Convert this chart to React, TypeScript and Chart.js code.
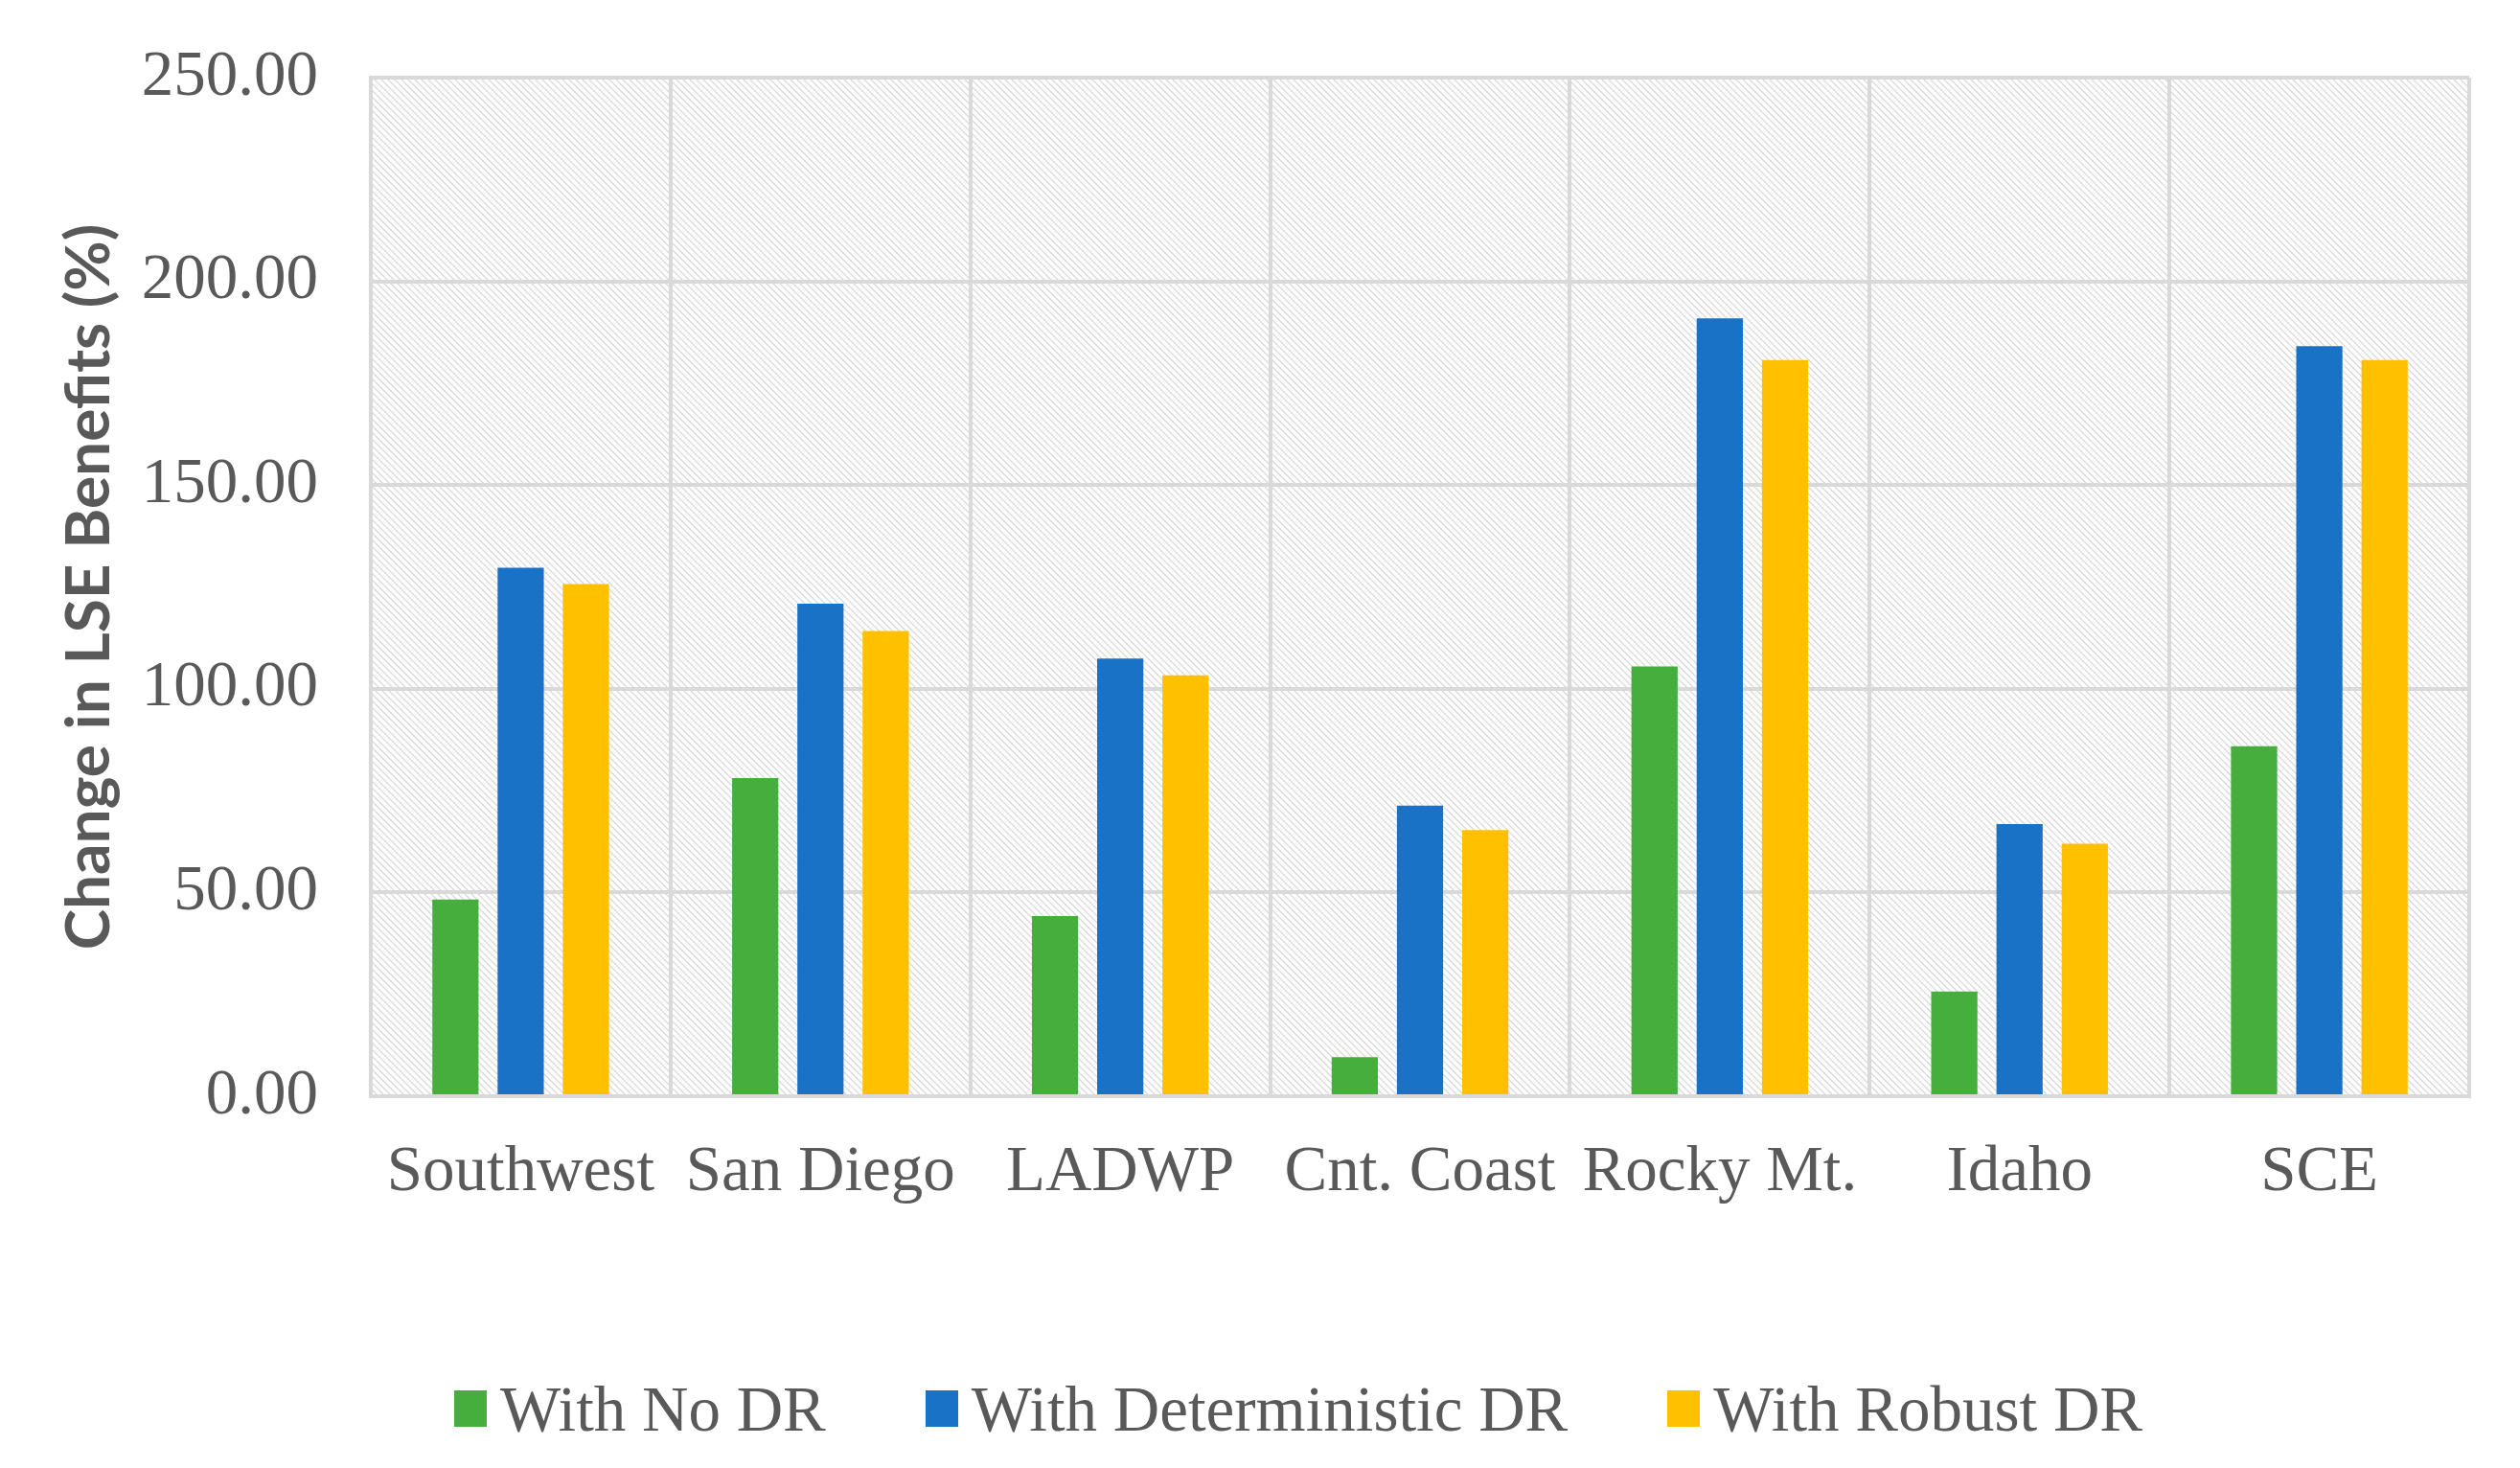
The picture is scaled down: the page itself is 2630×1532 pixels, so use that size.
import React, { useEffect, useRef } from "react";
import { Chart, registerables } from "chart.js";

Chart.register(...registerables);

const categories = ["Southwest", "San Diego", "LADWP", "Cnt. Coast", "Rocky Mt.", "Idaho", "SCE"];
const noDR = [48.3, 78.1, 44.2, 9.6, 105.5, 25.7, 85.9];
const deterministicDR = [129.7, 120.9, 107.4, 71.3, 190.9, 66.8, 184.1];
const robustDR = [125.7, 114.2, 103.3, 65.3, 180.7, 62.0, 180.7];
const seriesNames = ["With No DR", "With Deterministic DR", "With Robust DR"];
const seriesColors = ["#45AE3D", "#1A72C6", "#FFC000"];
const yTicks = [0, 50, 100, 150, 200, 250];
const yTitle = "Change in LSE Benefits (%)";

const SERIF = "'Liberation Serif', 'Times New Roman', serif";
const TEXT = "#595959";
const GRID = "#d9d9d9";

const hatchPlugin = {
  id: "hatch",
  beforeDraw(chart: any) {
    const { ctx, chartArea } = chart;
    const s = 7;
    const tile = document.createElement("canvas");
    tile.width = s;
    tile.height = s;
    const t = tile.getContext("2d")!;
    t.strokeStyle = "#d9d9d9";
    t.lineWidth = 1.3;
    t.beginPath();
    t.moveTo(-1, -1);
    t.lineTo(s + 1, s + 1);
    t.moveTo(-1, s - 1);
    t.lineTo(1, s + 1);
    t.moveTo(s - 1, -1);
    t.lineTo(s + 1, 1);
    t.stroke();
    const pat = ctx.createPattern(tile, "repeat");
    ctx.save();
    ctx.fillStyle = pat;
    ctx.fillRect(chartArea.left, chartArea.top, chartArea.right - chartArea.left, chartArea.bottom - chartArea.top);
    ctx.restore();
  },
};

export default function App() {
  const ref = useRef<HTMLCanvasElement>(null);

  useEffect(() => {
    const canvas = ref.current!;
    const seriesData = [noDR, deterministicDR, robustDR];
    const chart = new Chart(canvas, {
      type: "bar",
      data: {
        labels: categories,
        datasets: seriesNames.map((name, i) => ({
          label: name,
          data: seriesData[i],
          backgroundColor: seriesColors[i],
          borderWidth: 0,
          categoryPercentage: 0.653,
          barPercentage: 0.708,
        })),
      },
      options: {
        responsive: false,
        animation: false,
        devicePixelRatio: 1,
        layout: { padding: { left: 51, right: 53, top: 81, bottom: 0 } },
        plugins: { legend: { display: false }, tooltip: { enabled: false } },
        scales: {
          x: {
            grid: { color: GRID, lineWidth: 4, drawTicks: false, offset: true },
            border: { color: GRID, width: 4 },
            ticks: {
              font: { family: SERIF, size: 67 },
              color: TEXT,
              padding: 40,
              autoSkip: false,
              maxRotation: 0,
              minRotation: 0,
            },
            afterFit: (s: any) => {
              s.height = 388;
              s.paddingLeft = 0;
              s.paddingRight = 0;
            },
          },
          y: {
            min: 0,
            max: 250,
            afterBuildTicks: (s: any) => {
              s.ticks = yTicks.map((v) => ({ value: v }));
            },
            grid: { color: GRID, lineWidth: 4, drawTicks: false },
            border: { color: GRID, width: 4 },
            ticks: {
              font: { family: SERIF, size: 67 },
              color: TEXT,
              padding: 55,
              callback: (v: any) => Number(v).toFixed(2),
            },
            title: {
              display: true,
              text: yTitle,
              color: TEXT,
              font: { family: "Lato", weight: "bold", size: 64, lineHeight: 1.2 },
              padding: { top: 4, bottom: 4 },
            },
            afterFit: (s: any) => {
              s.width = 336;
              s.paddingTop = 0;
              s.paddingBottom = 0;
            },
          },
        },
      },
      plugins: [hatchPlugin],
    } as any);
    return () => chart.destroy();
  }, []);

  return (
    <div style={{ position: "fixed", left: 0, top: 0, width: 2630, height: 1532, background: "#fff" }}>
      <canvas ref={ref} width={2630} height={1532} style={{ position: "absolute", left: 0, top: 0, width: 2630, height: 1532 }} />
      <div
        style={{
          position: "absolute",
          left: 474,
          top: 1435,
          display: "flex",
          alignItems: "center",
          fontFamily: SERIF,
          fontSize: 67,
          lineHeight: "70px",
          color: TEXT,
          whiteSpace: "nowrap",
        }}
      >
        {seriesNames.map((name, i) => (
          <div key={name} style={{ display: "flex", alignItems: "center", marginRight: i < seriesNames.length - 1 ? 104 : 0 }}>
            <span style={{ display: "inline-block", width: 34, height: 38, background: seriesColors[i], marginRight: 14 }} />
            <span>{name}</span>
          </div>
        ))}
      </div>
    </div>
  );
}
